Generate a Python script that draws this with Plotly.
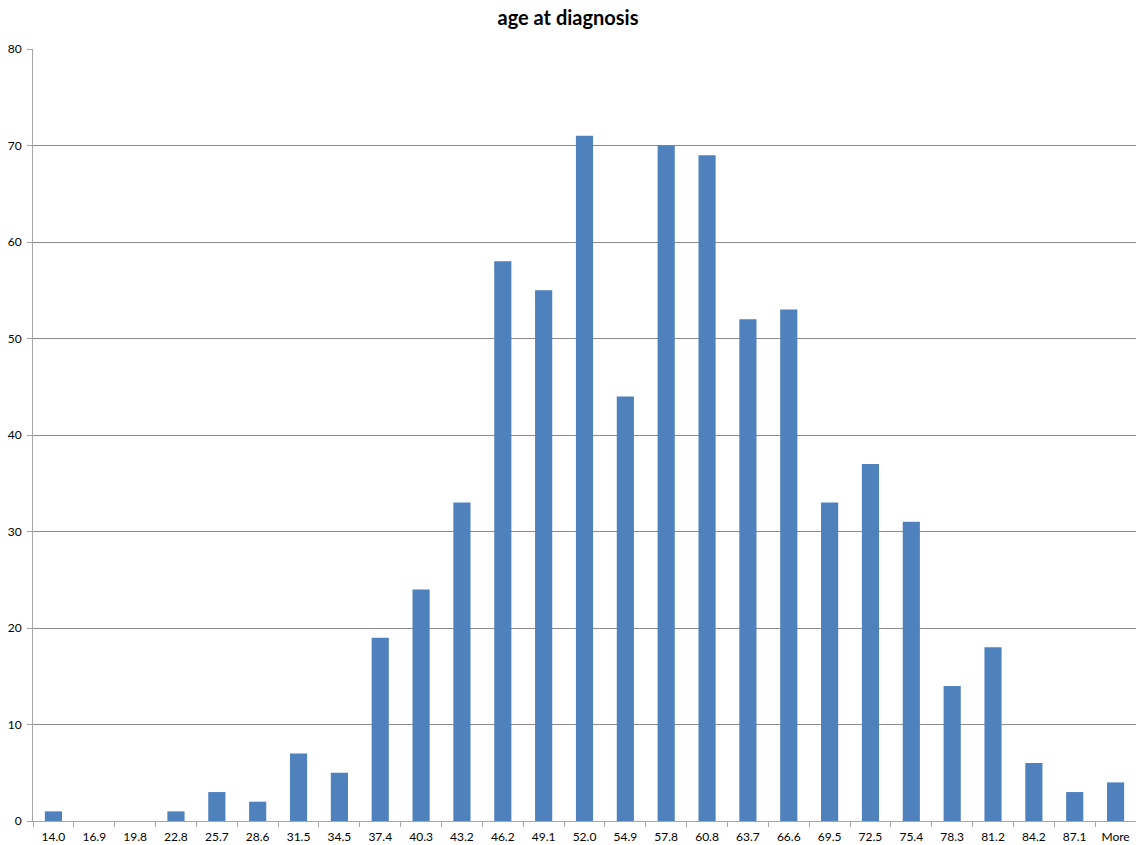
import plotly.graph_objects as go

bins = ["14.0", "16.9", "19.8", "22.8", "25.7", "28.6", "31.5", "34.5", "37.4", "40.3",
        "43.2", "46.2", "49.1", "52.0", "54.9", "57.8", "60.8", "63.7", "66.6", "69.5",
        "72.5", "75.4", "78.3", "81.2", "84.2", "87.1", "More"]
counts = [1, 0, 0, 1, 3, 2, 7, 5, 19, 24, 33, 58, 55, 71, 44, 70, 69, 52, 53, 33,
          37, 31, 14, 18, 6, 3, 4]
y_ticks = [0, 10, 20, 30, 40, 50, 60, 70, 80]

fig = go.Figure()
fig.add_trace(go.Bar(x=bins, y=counts, marker=dict(color="#4F81BD", line=dict(width=0))))

fig.update_layout(
    width=1136, height=845,
    margin=dict(l=33, r=0, t=49, b=24),
    plot_bgcolor="white", paper_bgcolor="white",
    bargap=0.58,
    showlegend=False,
    title=dict(text="<b>age at diagnosis</b>", x=0.5, xanchor="center", y=0.979, yanchor="middle",
               font=dict(family="Lato", size=20, color="black")),
    font=dict(family="Lato", size=12, color="black"),
)
fig.update_xaxes(type="category", showgrid=False, showline=True, linecolor="#A6A6A6", linewidth=1,
                 ticks="outside", tickson="boundaries", ticklen=5, tickcolor="#A6A6A6",
                 tickfont=dict(size=12), ticklabelstandoff=5)
fig.update_yaxes(range=[0, 80], tickvals=y_ticks, showgrid=True, gridcolor="#8C8C8C", gridwidth=1,
                 showline=True, linecolor="#A6A6A6", linewidth=1, ticks="outside", ticklen=5,
                 tickcolor="#A6A6A6", zeroline=False, tickfont=dict(size=12), ticklabelstandoff=3)

fig.write_html("out.html")
